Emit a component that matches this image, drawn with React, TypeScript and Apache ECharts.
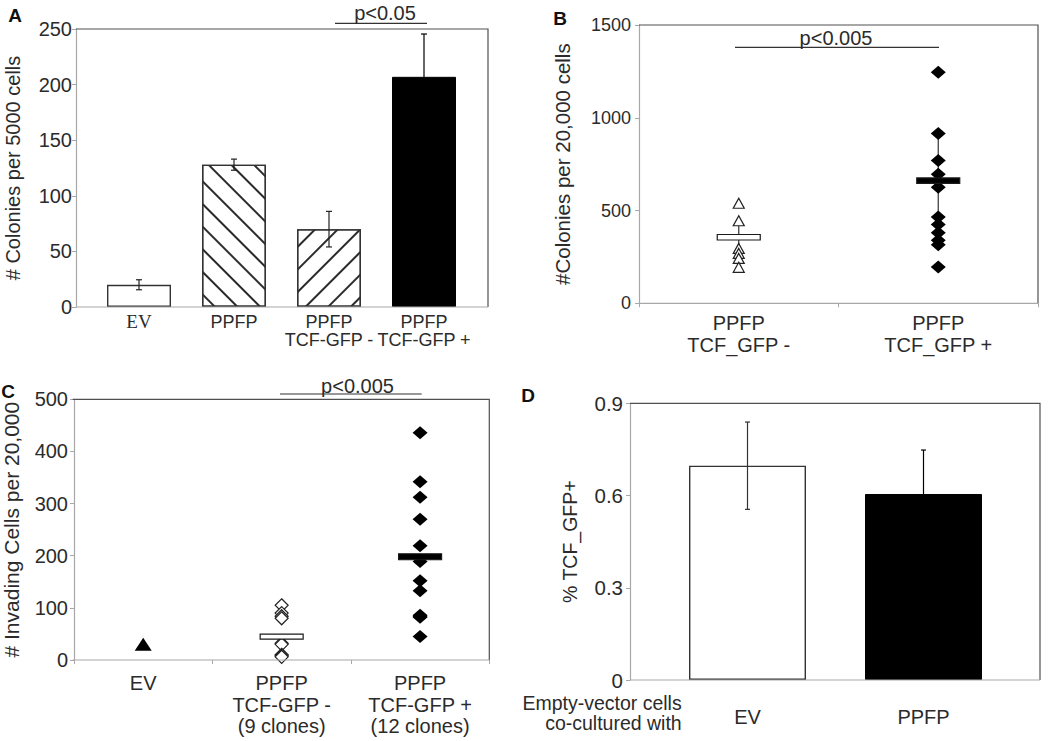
import React, { useEffect, useRef } from "react";
import * as echarts from "echarts";

// ---------- Panel A data ----------
const catsA = ["EV", "PPFP", "PPFP\nTCF-GFP -", "PPFP\nTCF-GFP +"];
const meansA = [20, 128, 70, 207];
const errA = [4.5, 5, 16, 38.5];

// ---------- Panel B data ----------
const catsB = ["PPFP\nTCF_GFP -", "PPFP\nTCF_GFP +"];
const pointsBNeg = [539, 445, 296, 269, 242, 194];
const pointsBPos = [1245, 915, 770, 695, 625, 465, 425, 380, 340, 315, 195];
const meanB = [356, 661];
const errLowB = [275, 485];
const errHighB = [420, 915];

// ---------- Panel C data ----------
const catsC = ["EV", "PPFP\nTCF-GFP -\n(9 clones)", "PPFP\nTCF-GFP +\n(12 clones)"];
const pointsCEV = [30];
const pointsCNeg = [105, 90, 84, 80, 32, 30, 10, 8, 6];
const pointsCPos = [436, 342, 312, 270, 219, 189, 152, 133, 86, 84, 82, 45];
const meanC = [45, 198];

// ---------- Panel D data ----------
const catsD = ["EV", "PPFP"];
const meansD = [0.697, 0.605];
const errD = [0.142, 0.143];

const FONT = "'Liberation Sans', Arial, sans-serif";
const TXT = "#2b2b2b";
const LIGHT = "#a8a8a8";
const DARK = "#505050";

function errorBarSeries(xi: number, yi: number, data: number[][], colors: string[], cap: number) {
  return {
    type: "custom",
    xAxisIndex: xi,
    yAxisIndex: yi,
    z: 5,
    encode: { x: 0, y: [1, 2] },
    data,
    renderItem: (params: any, api: any) => {
      const x = api.value(0);
      const lo = api.coord([x, api.value(1)]);
      const hi = api.coord([x, api.value(2)]);
      const style = { stroke: colors[params.dataIndex] || "#222", lineWidth: 1.2 };
      const children: any[] = [
        { type: "line", shape: { x1: lo[0], y1: lo[1], x2: hi[0], y2: hi[1] }, style },
      ];
      if (cap > 0) {
        children.push({ type: "line", shape: { x1: hi[0] - cap / 2, y1: hi[1], x2: hi[0] + cap / 2, y2: hi[1] }, style });
        children.push({ type: "line", shape: { x1: lo[0] - cap / 2, y1: lo[1], x2: lo[0] + cap / 2, y2: lo[1] }, style });
      }
      return { type: "group", children };
    },
  };
}

function meanBarSeries(xi: number, yi: number, data: number[][], fill: string, h: number, z: number) {
  return {
    type: "custom",
    xAxisIndex: xi,
    yAxisIndex: yi,
    z,
    encode: { x: 0, y: 1 },
    data,
    renderItem: (params: any, api: any) => {
      const p = api.coord([api.value(0), api.value(1)]);
      return {
        type: "rect",
        shape: { x: p[0] - 21.5, y: p[1] - h / 2, width: 43, height: h },
        style: { fill, stroke: "#1a1a1a", lineWidth: 1.2 },
      };
    },
  };
}

function yAxisDef(gi: number, min: number, max: number, interval: number, name: string, nameGap: number, fontSize: number, nameSize: number, margin: number, offset: number) {
  return {
    type: "value",
    gridIndex: gi,
    min,
    max,
    interval,
    offset,
    splitLine: { show: false },
    axisLine: { show: true, lineStyle: { color: LIGHT, width: 1.2 } },
    axisTick: { show: true, length: 4, lineStyle: { color: LIGHT } },
    axisLabel: {
      fontSize,
      lineHeight: Math.round(fontSize * 0.7),
      color: TXT,
      margin,
      fontFamily: FONT,
      formatter: (v: number) => String(Math.round(v * 1000) / 1000),
    },
    name,
    nameLocation: "middle",
    nameRotate: 90,
    nameGap,
    nameTextStyle: { fontSize: nameSize, color: TXT, fontFamily: FONT },
  };
}

function xAxisDef(gi: number, data: any[], fontSize: number, lineHeight: number, margin: number, ticks: boolean) {
  return {
    type: "category",
    gridIndex: gi,
    data,
    axisLine: { show: false },
    axisTick: { show: ticks, length: 4, lineStyle: { color: LIGHT } },
    axisLabel: { interval: 0, fontSize, lineHeight, color: TXT, margin, fontFamily: FONT },
  };
}

function frame(l: number, t: number, r: number, b: number) {
  return [
    { type: "polyline", shape: { points: [[l, t], [r, t], [r, b]] }, style: { stroke: DARK, lineWidth: 1.2, fill: null }, z: 10 },
    { type: "line", shape: { x1: l, y1: b, x2: r, y2: b }, style: { stroke: LIGHT, lineWidth: 1.2 }, z: 10 },
  ];
}

function label(text: string, x: number, y: number, size: number, bold = false, align = "center", lh?: number) {
  return {
    type: "text",
    x,
    y,
    z: 20,
    style: {
      text,
      fontSize: size,
      lineHeight: lh || size,
      fontWeight: bold ? "bold" : "normal",
      fontFamily: FONT,
      fill: bold ? "#111" : TXT,
      align,
      verticalAlign: "middle",
    },
  };
}

function bracket(x1: number, x2: number, y: number) {
  return { type: "line", shape: { x1, y1: y, x2, y2: y }, style: { stroke: "#333", lineWidth: 1.2 }, z: 20 };
}

export default function App() {
  const ref = useRef<HTMLDivElement>(null);
  useEffect(() => {
    if (!ref.current) return;
    const chart = echarts.init(ref.current, null, { renderer: "svg" });

    const stripe = (rot: number) => ({
      symbol: "rect",
      symbolSize: 1,
      color: "#2a2a2a",
      dashArrayX: [1, 0],
      dashArrayY: [1.4, 13.8],
      rotation: rot,
    });

    const barItemsA = meansA.map((v, i) => {
      const base: any = { value: v, itemStyle: { color: "#fff", borderColor: "#333", borderWidth: 1.4 } };
      if (i === 1) base.itemStyle.decal = stripe(Math.PI / 4);
      if (i === 2) base.itemStyle.decal = stripe(-Math.PI / 4);
      if (i === 3) base.itemStyle = { color: "#000", borderColor: "#000", borderWidth: 1 };
      return base;
    });

    const xDataA = catsA.map((c, i) =>
      i === 0 ? { value: c, textStyle: { fontFamily: "'Liberation Serif', 'Times New Roman', serif", fontSize: 19 } } : c
    );

    const option: any = {
      animation: false,
      backgroundColor: "#fff",
      textStyle: { fontFamily: FONT },
      grid: [
        { left: 91.5, top: 29, width: 380, height: 278 },
        { left: 639, top: 25, width: 399, height: 278.3 },
        { left: 72.7, top: 399.3, width: 416.6, height: 260.7 },
        { left: 659.5, top: 403.3, width: 352, height: 276.7 },
      ],
      xAxis: [
        xAxisDef(0, xDataA, 18, 18.3, 5.5, false),
        xAxisDef(1, catsB, 20, 21.7, 9, true),
        xAxisDef(2, catsC, 20, 21.5, 12.5, true),
        xAxisDef(3, catsD, 20, 21, 26, false),
      ],
      yAxis: [
        yAxisDef(0, 0, 250, 50, "# Colonies per 5000 cells", 53, 20, 20, 4, 15.5),
        yAxisDef(1, 0, 1500, 500, "#Colonies per 20,000 cells", 66, 18, 20.5, 8, 0),
        yAxisDef(2, 0, 500, 100, "# Invading Cells per 20,000", 52, 20, 21, 6, 0),
        yAxisDef(3, 0, 0.9, 0.3, "% TCF_GFP+", 50, 20.5, 19.5, 7, 29.5),
      ],
      series: [
        // Panel A
        { type: "bar", xAxisIndex: 0, yAxisIndex: 0, barWidth: 64, data: barItemsA, z: 2 },
        errorBarSeries(0, 0, meansA.map((m, i) => [i, m - errA[i], m + errA[i]]), ["#222", "#222", "#222", "#000"], 6),
        // Panel B
        errorBarSeries(1, 1, meanB.map((m, i) => [i, errLowB[i], errHighB[i]]), ["#333", "#333"], 0),
        meanBarSeries(1, 1, [[0, meanB[0]]], "#fff", 5.5, 6),
        {
          type: "scatter", xAxisIndex: 1, yAxisIndex: 1, z: 7,
          symbol: "triangle", symbolSize: [11, 10],
          itemStyle: { color: "#fff", borderColor: "#222", borderWidth: 1.2, opacity: 1 },
          data: pointsBNeg.map((v) => [0, v]),
        },
        {
          type: "scatter", xAxisIndex: 1, yAxisIndex: 1, z: 7,
          symbol: "diamond", symbolSize: [15, 13],
          itemStyle: { color: "#000", opacity: 1 },
          data: pointsBPos.map((v) => [1, v]),
        },
        meanBarSeries(1, 1, [[1, meanB[1]]], "#000", 5.5, 8),
        // Panel C
        {
          type: "scatter", xAxisIndex: 2, yAxisIndex: 2, z: 7,
          symbol: "triangle", symbolSize: [17, 13],
          itemStyle: { color: "#000", opacity: 1 },
          data: pointsCEV.map((v) => [0, v]),
        },
        {
          type: "scatter", xAxisIndex: 2, yAxisIndex: 2, z: 7,
          symbol: "diamond", symbolSize: [13, 13],
          itemStyle: { color: "#fff", borderColor: "#222", borderWidth: 1.2, opacity: 1 },
          data: pointsCNeg.map((v) => [1, v]),
        },
        {
          type: "scatter", xAxisIndex: 2, yAxisIndex: 2, z: 7,
          symbol: "diamond", symbolSize: [15, 13],
          itemStyle: { color: "#000", opacity: 1 },
          data: pointsCPos.map((v) => [2, v]),
        },
        meanBarSeries(2, 2, [[1, meanC[0]]], "#fff", 5, 8),
        meanBarSeries(2, 2, [[2, meanC[1]]], "#000", 6, 8),
        // Panel D
        {
          type: "bar", xAxisIndex: 3, yAxisIndex: 3, barWidth: 117, z: 2,
          data: meansD.map((v, i) => ({
            value: v,
            itemStyle: i === 0
              ? { color: "#fff", borderColor: "#333", borderWidth: 1.4 }
              : { color: "#000", borderColor: "#000", borderWidth: 1 },
          })),
        },
        errorBarSeries(3, 3, meansD.map((m, i) => [i, m - errD[i], m + errD[i]]), ["#333", "#000"], 5),
      ],
      graphic: [
        ...frame(76, 29, 488, 307),
        ...frame(639, 25, 1038, 303.3),
        ...frame(72.7, 399.3, 489.3, 660),
        ...frame(630, 403.3, 1040, 680),
        label("A", 15, 15, 19, true),
        label("B", 560, 18.5, 19, true),
        label("C", 8, 391, 19, true),
        label("D", 528, 395, 19, true),
        bracket(335, 427, 23.3),
        label("p<0.05", 385, 13, 20),
        bracket(735, 939, 47.3),
        label("p<0.005", 836, 37.5, 20),
        bracket(280, 421.7, 394),
        label("p<0.005", 357.5, 386, 20),
        label("Empty-vector cells\nco-cultured with", 681.7, 713, 19.5, false, "right", 20),
      ],
    };

    chart.setOption(option);
    return () => chart.dispose();
  }, []);

  return (
    <div
      ref={ref}
      style={{ position: "absolute", left: 0, top: 0, width: 1050, height: 741, background: "#fff" }}
    />
  );
}
